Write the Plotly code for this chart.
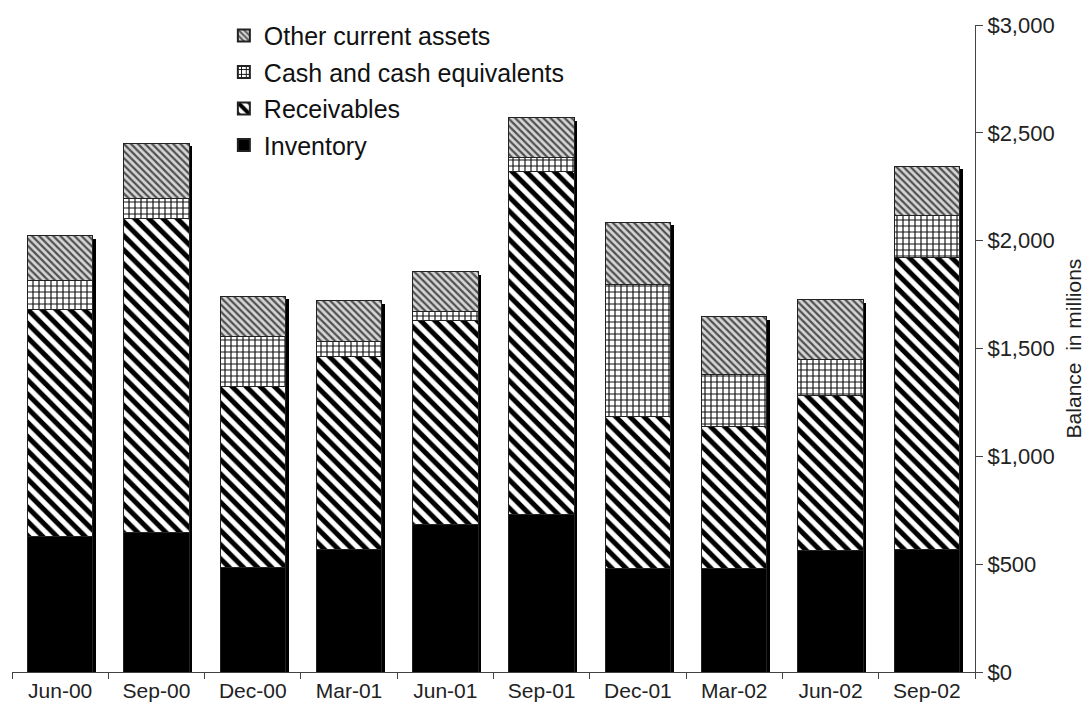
import plotly.graph_objects as go

categories = ["Jun-00", "Sep-00", "Dec-00", "Mar-01", "Jun-01",
              "Sep-01", "Dec-01", "Mar-02", "Jun-02", "Sep-02"]
inventory = [627, 648, 485, 566, 686, 732, 481, 481, 562, 569]
receivables = [1056, 1455, 838, 896, 946, 1591, 703, 659, 719, 1354]
cash = [131, 93, 231, 69, 38, 63, 615, 240, 170, 192]
other = [209, 255, 189, 190, 186, 184, 286, 267, 274, 231]
y_ticks = [0, 500, 1000, 1500, 2000, 2500, 3000]
y_labels = ["$0", "$500", "$1,000", "$1,500", "$2,000", "$2,500", "$3,000"]

totals = [a + b + c + d for a, b, c, d in zip(inventory, receivables, cash, other)]
positions = list(range(len(categories)))

BAR_W = 0.68
OUT = dict(color="#222", width=1)

fig = go.Figure()

# shadow bars (behind), on shifted hidden axes
fig.add_trace(go.Bar(
    x=positions, y=totals, width=BAR_W, xaxis="x", yaxis="y",
    marker=dict(color="black", line=dict(width=0)),
    showlegend=False, hoverinfo="skip"))

fig.add_trace(go.Bar(
    x=categories, y=inventory, name="Inventory", width=BAR_W,
    xaxis="x2", yaxis="y2", legendgroup="g1", legendrank=4,
    marker=dict(color="black", line=OUT)))
fig.add_trace(go.Bar(
    x=categories, y=receivables, name="Receivables", width=BAR_W,
    xaxis="x2", yaxis="y2", legendgroup="g2", legendrank=3,
    marker=dict(color="white", line=OUT,
                pattern=dict(shape="\\", fgcolor="black", bgcolor="white",
                             fgopacity=1, size=10, solidity=0.5,
                             fillmode="replace"))))
fig.add_trace(go.Bar(
    x=categories, y=cash, name="Cash and cash equivalents", width=BAR_W,
    xaxis="x2", yaxis="y2", legendgroup="g3", legendrank=2,
    marker=dict(color="white", line=OUT,
                pattern=dict(shape="+", fgcolor="#111", bgcolor="white",
                             fgopacity=1, size=6, solidity=0.35,
                             fillmode="replace"))))
fig.add_trace(go.Bar(
    x=categories, y=other, name="Other current assets", width=BAR_W,
    xaxis="x2", yaxis="y2", legendgroup="g4", legendrank=1,
    marker=dict(color="#bbbbbb", line=OUT,
                pattern=dict(shape="\\", fgcolor="#505050", bgcolor="#d6d6d6",
                             fgopacity=1, size=5, solidity=0.45,
                             fillmode="replace"))))

dx = 3 / 96.0
dy = 3 * 3000 / 647.0

fig.update_layout(
    barmode="stack",
    width=1092, height=715,
    margin=dict(l=4, r=125, t=17, b=51, autoexpand=False),
    paper_bgcolor="white", plot_bgcolor="white",
    font=dict(family="Liberation Sans, Arial, sans-serif", color="#222", size=20),
    xaxis=dict(range=[-0.5 - dx, len(categories) - 0.5 - dx], visible=False,
               fixedrange=True),
    yaxis=dict(range=[dy, 3000 + dy], visible=False),
    xaxis2=dict(overlaying="x", anchor="y2", side="bottom",
                type="category", range=[-0.5, len(categories) - 0.5],
                tickson="boundaries", ticks="outside", ticklen=6,
                tickcolor="#444", showline=True, linecolor="#444", linewidth=1,
                showgrid=False, tickfont=dict(size=21, color="#222")),
    yaxis2=dict(overlaying="y", anchor="x2", side="right",
                range=[0, 3000], tickvals=y_ticks, ticktext=y_labels,
                ticks="outside", ticklen=7, tickcolor="#444",
                showline=True, linecolor="#444", linewidth=1,
                showgrid=False, zeroline=False,
                tickfont=dict(size=22, color="#222"),
                title=dict(text="Balance  in millions", standoff=12,
                           font=dict(size=21, color="#222"))),
    legend=dict(x=0.22, y=1.019, xanchor="left", yanchor="top",
                traceorder="grouped", bgcolor="rgba(0,0,0,0)",
                font=dict(size=25, color="#111"), tracegroupgap=1,
                itemwidth=30, itemsizing="constant"),
    bargap=0.32,
)

fig.write_html("out.html")
